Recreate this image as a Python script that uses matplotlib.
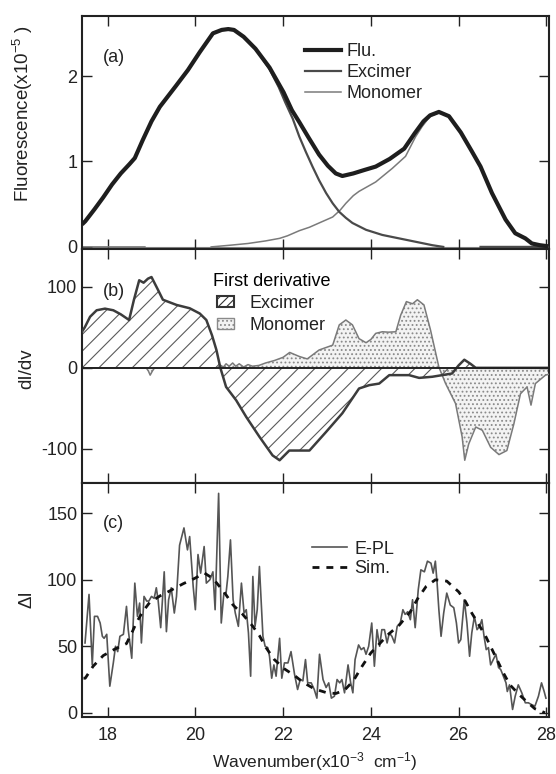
import matplotlib
matplotlib.use("Agg")
import matplotlib.pyplot as plt
from matplotlib.lines import Line2D
from matplotlib.patches import Patch
import numpy as np

plt.rcParams['font.family'] = ['Liberation Sans', 'DejaVu Sans']
plt.rcParams['mathtext.default'] = 'regular'
plt.rcParams['hatch.linewidth'] = 0.8
plt.rcParams['axes.unicode_minus'] = False

# ---------------- Panel (a) data ----------------
flu_x = [17.45, 17.49, 17.7, 17.9, 18.1, 18.3, 18.5, 18.62, 18.8, 19.0, 19.19, 19.55, 19.83, 20.1,
         20.4, 20.6, 20.75, 20.88, 21.1, 21.37, 21.69, 22.01, 22.2, 22.37, 22.58, 22.82, 23.02, 23.2,
         23.35, 23.6, 23.85, 24.11, 24.43, 24.76, 25.0, 25.2, 25.35, 25.55, 25.78, 26.05, 26.3,
         26.5, 26.76, 27.07, 27.29, 27.52, 27.67, 27.85, 28.0]
flu_y = [0.28, 0.30, 0.44, 0.58, 0.73, 0.86, 0.97, 1.04, 1.25, 1.47, 1.64, 1.88, 2.07, 2.28,
         2.50, 2.54, 2.55, 2.54, 2.46, 2.32, 2.10, 1.81, 1.60, 1.46, 1.28, 1.08, 0.95, 0.86,
         0.83, 0.86, 0.90, 0.94, 1.03, 1.15, 1.33, 1.47, 1.54, 1.58, 1.53, 1.34, 1.12,
         0.94, 0.63, 0.32, 0.16, 0.10, 0.04, 0.02, 0.01]

exc_x = [17.45, 17.49, 17.7, 17.9, 18.1, 18.3, 18.5, 18.62, 18.8, 19.0, 19.19, 19.55, 19.83, 20.1,
         20.4, 20.6, 20.75, 20.88, 21.1, 21.37, 21.69, 21.9, 22.05, 22.22, 22.37, 22.52, 22.67,
         22.82, 22.98, 23.13, 23.28, 23.43, 23.58, 23.89, 24.26, 24.64, 25.02, 25.4, 25.65,
         np.nan, 26.5, 28.05]
exc_y = [0.28, 0.30, 0.44, 0.58, 0.73, 0.86, 0.97, 1.04, 1.25, 1.47, 1.64, 1.88, 2.07, 2.28,
         2.50, 2.54, 2.55, 2.54, 2.46, 2.32, 2.08, 1.87, 1.69, 1.50, 1.29, 1.11, 0.94,
         0.78, 0.63, 0.51, 0.41, 0.34, 0.28, 0.20, 0.14, 0.10, 0.06, 0.02, 0.0,
         np.nan, 0.0, 0.0]

mon_x = [17.41, 18.85, np.nan, 20.36, 20.8, 21.2, 21.6, 21.92, 22.1, 22.37, 22.6, 22.82, 23.13,
         23.3, 23.43, 23.6, 23.73, 24.11, 24.49, 24.79, 25.02, 25.17, 25.35, 25.55, 25.78,
         26.05, 26.3, 26.5, 26.76, 27.07, 27.29, 27.52, 27.67, 27.85, 28.0]
mon_y = [0.0, 0.0, np.nan, 0.0, 0.02, 0.04, 0.07, 0.10, 0.13, 0.19, 0.23, 0.28, 0.35,
         0.43, 0.51, 0.60, 0.65, 0.76, 0.92, 1.06, 1.29, 1.41, 1.53, 1.57, 1.53,
         1.34, 1.12, 0.94, 0.63, 0.32, 0.16, 0.10, 0.04, 0.02, 0.01]

# ---------------- Panel (b) data ----------------
dexc_x = [17.41, 17.48, 17.6, 17.75, 17.94, 18.13, 18.3, 18.49, 18.6, 18.72, 18.82, 18.92, 19.0,
          19.15, 19.26, 19.57, 19.87, 20.1, 20.25, 20.38, 20.48, 20.57, 20.7, 20.93, 21.16,
          21.46, 21.76, 21.92, 22.14, 22.37, 22.6, 22.98, 23.35, 23.73, 23.96, 24.19, 24.42,
          24.87, 25.1, 25.4, 25.85, 26.0, 26.13, 26.27, 26.39, 26.6, 28.05]
dexc_y = [44, 50, 63, 71, 73, 71, 66, 59, 84, 108, 105, 110, 112,
          96, 84, 77.6, 73.5, 67, 59, 40, 22, 0, -23.5, -40, -60.6,
          -85, -108, -114, -102, -102, -102, -79, -56, -25.5, -21.4, -19.4, -9,
          -9, -12.4, -11, -7, 3, 10, 5, 0, 0, 0]

dmon_x = [17.41, 18.88, 18.93, 18.97, 19.02, 19.07, 20.5, 20.58, 20.64, 20.7, 20.77, 20.85,
          20.92, 21.0, 21.1, 21.2, 21.3, 21.45, 21.6, 21.8, 22.0, 22.15, 22.37, 22.55, 22.82,
          23.13, 23.28, 23.43, 23.58, 23.73, 23.89, 24.0, 24.11, 24.26, 24.4, 24.57, 24.68,
          24.81, 24.95, 25.06, 25.21, 25.36, 25.55, 25.7, 25.93, 26.08, 26.14, 26.23, 26.39,
          26.54, 26.73, 26.92, 27.1, 27.26, 27.41, 27.56, 27.65, 27.75, 27.98, 28.05]
dmon_y = [0, 0, -4, -9, -4, 0, 0, 3, 1, 5, 2, 6,
          2, 5, 1, 4, 2, 3, 6, 9, 13, 19, 14, 11, 22,
          28, 53, 59, 53, 36, 31, 35, 42.5, 44.5, 44, 44.5, 65,
          81.7, 79, 84, 77.6, 46.6, 1, -19, -44, -85, -114, -94, -73,
          -77, -98, -107, -102, -69, -32, -23.5, -46, -19.4, -9, -8]

# ---------------- Panel (c) data ----------------
epl_x = [17.485, 17.576, 17.65, 17.70, 17.77, 17.83, 17.88, 17.92, 17.98, 18.05, 18.13, 18.18,
         18.23, 18.28, 18.36, 18.43, 18.47, 18.55, 18.62, 18.68, 18.73, 18.77, 18.83, 18.89,
         18.94, 19.00, 19.06, 19.11, 19.15, 19.21, 19.29, 19.34, 19.39, 19.45, 19.52, 19.57,
         19.64, 19.74, 19.82, 19.87, 19.95, 20.00, 20.06, 20.12, 20.20, 20.25, 20.33, 20.40,
         20.45, 20.53, 20.59, 20.65, 20.70, 20.74, 20.80, 20.86, 20.91, 20.98, 21.05, 21.11,
         21.16, 21.21, 21.26, 21.31, 21.36, 21.41, 21.46, 21.54, 21.59, 21.65, 21.69, 21.74,
         21.79, 21.84, 21.92, 21.97, 22.03, 22.11, 22.18, 22.26, 22.33, 22.39, 22.45, 22.51,
         22.56, 22.64, 22.71, 22.77, 22.83, 22.91, 22.98, 23.04, 23.10, 23.17, 23.23, 23.29,
         23.34, 23.40, 23.48, 23.54, 23.59, 23.64, 23.72, 23.78, 23.84, 23.89, 23.95, 24.02,
         24.08, 24.14, 24.20, 24.25, 24.31, 24.37, 24.42, 24.48, 24.54, 24.60, 24.67, 24.73,
         24.78, 24.84, 24.90, 24.95, 25.01, 25.08, 25.14, 25.22, 25.29, 25.37, 25.42, 25.47,
         25.51, 25.55, 25.60, 25.66, 25.73, 25.81, 25.89, 25.95, 26.00, 26.05, 26.13, 26.19,
         26.25, 26.30, 26.36, 26.42, 26.48, 26.53, 26.58, 26.63, 26.68, 26.73, 26.79, 26.85,
         26.91, 26.96, 27.02, 27.08, 27.11, 27.16, 27.23, 27.29, 27.36, 27.44, 27.52, 27.59,
         27.67, 27.74, 27.82, 27.89, 27.95, 27.99]
epl_y = [52.5, 89, 36, 72.5, 72.5, 67.5, 57.5, 56, 59, 20, 37.5, 50,
         46, 57.5, 59, 80, 62.5, 41, 97.5, 72.5, 82.5, 52.5, 87.5, 84,
         84, 87.5, 86, 94, 85, 64, 106, 61, 85, 94, 75, 87.5,
         126, 139, 122.5, 132.5, 95, 77.5, 119, 105, 125, 97.5, 100, 106,
         77.5, 165, 67.5, 90, 90, 102.5, 130, 85, 75, 65, 97.5, 75,
         77.5, 60, 27.5, 102.5, 65, 77.5, 110, 57.5, 50, 49, 42.5, 26,
         36, 27.5, 56, 26, 37.5, 37.5, 46, 29, 17.5, 25, 24, 40,
         22.5, 22.5, 17.5, 11, 44, 25, 19, 22.5, 11, 12.5, 25, 22.5,
         25, 15, 36, 22.5, 15, 40, 51, 47.5, 49, 44, 50, 67.5,
         35, 62.5, 50, 62.5, 62.5, 52.5, 60, 57.5, 52.5, 65, 67.5, 77.5,
         74, 76, 70, 85, 64, 92.5, 107.5, 106, 114, 112.5, 105, 114,
         97.5, 77.5, 57.5, 75, 90, 81, 79, 67.5, 52.5, 55, 85, 67.5,
         42.5, 60, 72.5, 62.5, 65, 70, 57.5, 47.5, 49, 36, 40, 44,
         34, 32.5, 27.5, 22.5, 16, 21, 2.5, 12.5, 21, 15, 7.5, 7.5,
         6, 5, 12.5, 22.5, 16, 11]

sim_x = [17.45, 17.49, 17.67, 17.9, 18.17, 18.43, 18.55, 18.66, 18.8, 18.96, 19.2, 19.38, 19.72,
         19.98, 20.21, 20.4, 20.65, 20.86, 21.08, 21.31, 21.46, 21.61, 21.8, 22.03, 22.26, 22.45,
         22.71, 23.0, 23.2, 23.4, 23.6, 23.8, 24.0, 24.2, 24.4, 24.65, 24.9, 25.07, 25.26, 25.47,
         25.73, 26.0, 26.15, 26.3, 26.61, 26.83, 27.02, 27.17, 27.4, 27.6, 27.74, 27.97]
sim_y = [26, 26, 35, 43, 48, 52, 60, 68, 76, 83, 88, 91, 97,
         101, 105, 101, 91, 81, 74, 65, 58, 49, 40, 33, 28, 23,
         18, 15, 14.5, 17, 24, 35, 45, 52, 59, 66, 76, 86, 95, 100,
         99, 91, 84, 75, 58, 43, 30, 21, 13, 7, 3, 0]

xticks = [18, 20, 22, 24, 26, 28]

# ---------------- Figure ----------------
FS = 13
fig = plt.figure(figsize=(5.56, 7.74), dpi=100)
L, W = 0.147, 0.8396
ax_a = fig.add_axes([L, 0.6777, W, 0.3013])
ax_b = fig.add_axes([L, 0.3760, W, 0.3017])
ax_c = fig.add_axes([L, 0.0736, W, 0.3024])

for ax in (ax_a, ax_b, ax_c):
    ax.set_xlim(17.41, 28.05)
    ax.set_xticks(xticks)
    ax.tick_params(direction='in', length=7, width=1.0, top=True, right=True,
                   labelsize=FS, colors='#222222')
    ax.tick_params(axis='y', pad=3.2)
    ax.tick_params(axis='x', pad=7)
    for s in ax.spines.values():
        s.set_linewidth(1.5)
        s.set_color('#222222')

ax_a.tick_params(labelbottom=False)
ax_b.tick_params(labelbottom=False)

# Panel a
ax_a.axhline(0, color='#888888', lw=0.8, zorder=1)
ax_a.plot(mon_x, mon_y, color='#7a7a7a', lw=1.1, label='Monomer', zorder=2)
ax_a.plot(exc_x, exc_y, color='#4a4a4a', lw=1.6, label='Excimer', zorder=3)
ax_a.plot(flu_x, flu_y, color='#1e1e1e', lw=3.0, label='Flu.', zorder=4)
ax_a.set_ylim(-0.03, 2.70)
ax_a.set_yticks([0, 1, 2])
ax_a.set_ylabel('Fluorescence(x10$^{-5}$ )', fontsize=13.5, color='#222222')
ax_a.yaxis.set_label_coords(-0.100, 0.585)
ax_a.text(0.0456, 0.822, '(a)', transform=ax_a.transAxes, fontsize=FS, ha='left', va='center',
          color='#222222')
ha = [Line2D([], [], color='#1e1e1e', lw=3.0),
      Line2D([], [], color='#4a4a4a', lw=1.6),
      Line2D([], [], color='#7a7a7a', lw=1.1)]
ax_a.legend(ha, ['Flu.', 'Excimer', 'Monomer'], loc='upper left', bbox_to_anchor=(0.478, 0.884),
            frameon=False, fontsize=FS, handlelength=2.0, handletextpad=0.32,
            labelspacing=0.22, borderpad=0, borderaxespad=0, labelcolor='#222222')

# Panel b
dexc_x_a = np.array(dexc_x)
dexc_y_a = np.array(dexc_y)
dmon_x_a = np.array(dmon_x)
dmon_y_a = np.array(dmon_y)
ax_b.fill_between(dmon_x_a, dmon_y_a, 0, facecolor='#f3f3f3', edgecolor='#8a8a8a',
                  hatch='....', linewidth=0, zorder=1)
ax_b.fill_between(dexc_x_a, dexc_y_a, 0, facecolor='none', edgecolor='#5a5a5a',
                  hatch='//', linewidth=0, zorder=2)
ax_b.plot(dmon_x_a, dmon_y_a, color='#7a7a7a', lw=1.1, zorder=3)
ax_b.plot(dexc_x_a, dexc_y_a, color='#3c3c3c', lw=1.8, zorder=4)
ax_b.axhline(0, color='#222222', lw=1.4, zorder=5)
ax_b.set_ylim(-142, 146)
ax_b.set_yticks([-100, 0, 100])
ax_b.set_ylabel('dI/dv', fontsize=13.5, color='#222222')
ax_b.yaxis.set_label_coords(-0.100, 0.49)
ax_b.text(0.0456, 0.82, '(b)', transform=ax_b.transAxes, fontsize=FS, ha='left', va='center',
          color='#222222')
hb = [Patch(facecolor='white', edgecolor='#333333', hatch='////', linewidth=1.5),
      Patch(facecolor='#f3f3f3', edgecolor='#8a8a8a', hatch='....', linewidth=1.0)]
ax_b.legend(hb, ['Excimer', 'Monomer'], title='First derivative', title_fontsize=FS,
            loc='upper left', bbox_to_anchor=(0.281, 0.90), frameon=False, fontsize=FS,
            handlelength=0.9, handleheight=0.55, handletextpad=0.9, labelspacing=0.29,
            borderpad=0, borderaxespad=0, labelcolor='#222222')

# Panel c
ax_c.plot(epl_x, epl_y, color='#555555', lw=1.2, label='E-PL', zorder=2)
ax_c.plot(sim_x, sim_y, color='#111111', lw=2.0, ls=(0, (2.5, 2.5)), label='Sim.', zorder=3)
ax_c.set_ylim(-3.2, 172.8)
ax_c.set_yticks([0, 50, 100, 150])
ax_c.set_ylabel('ΔI', fontsize=13.5, color='#222222')
ax_c.yaxis.set_label_coords(-0.100, 0.504)
ax_c.set_xlabel('Wavenumber(x10$^{-3}$  cm$^{-1}$)', fontsize=12.5, color='#222222')
ax_c.xaxis.set_label_coords(0.5, -0.14)
ax_c.text(0.0456, 0.827, '(c)', transform=ax_c.transAxes, fontsize=FS, ha='left', va='center',
          color='#222222')
ax_c.legend(loc='upper left', bbox_to_anchor=(0.493, 0.754), frameon=False, fontsize=FS,
            handlelength=1.95, handletextpad=0.42, labelspacing=0.14, borderpad=0,
            borderaxespad=0, labelcolor='#222222')

fig.savefig('out.png', dpi=100)
